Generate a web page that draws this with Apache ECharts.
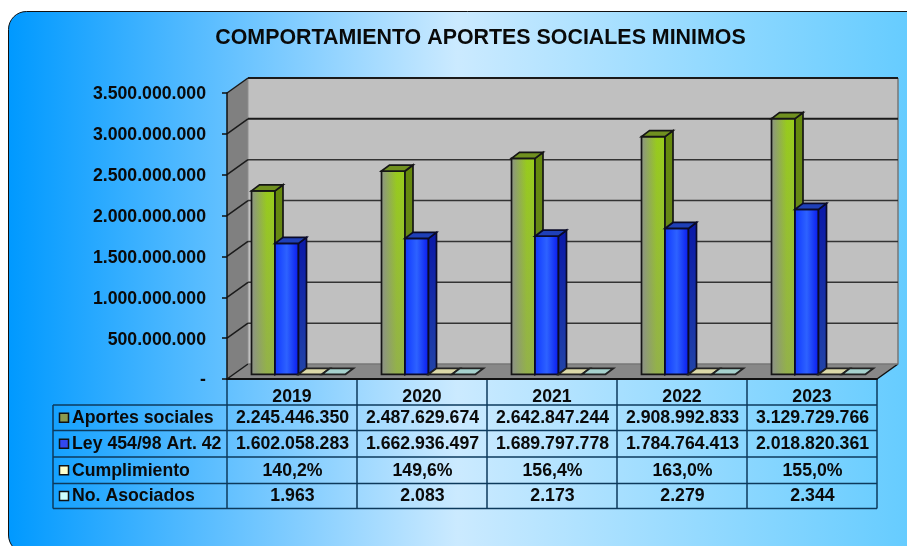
<!DOCTYPE html>
<html>
<head>
<meta charset="utf-8">
<style>html,body{margin:0;padding:0;background:#fff;overflow:hidden}#c{width:907px;height:546px}</style>
<script src="https://cdn.jsdelivr.net/npm/echarts@6/dist/echarts.min.js"></script>
</head>
<body>
<div id="c"></div>
<script>
const titleText = 'COMPORTAMIENTO APORTES SOCIALES MINIMOS';
const years = ['2019', '2020', '2021', '2022', '2023'];
const seriesNames = ['Aportes sociales', 'Ley 454/98 Art. 42', 'Cumplimiento', 'No. Asociados'];
const aportes = [2245446350, 2487629674, 2642847244, 2908992833, 3129729766];
const ley = [1602058283, 1662936497, 1689797778, 1784764413, 2018820361];
const cumplimiento = [140.2, 149.6, 156.4, 163.0, 155.0];
const asociados = [1963, 2083, 2173, 2279, 2344];
const yTicks = [0, 500000000, 1000000000, 1500000000, 2000000000, 2500000000, 3000000000, 3500000000];

const FONT = '"Liberation Sans", Arial, sans-serif';
const TEXT_SIZE = 17.7;
const thousands = v => String(Math.round(v)).replace(/\B(?=(\d{3})+$)/g, '.');
const pct = v => v.toFixed(1).replace('.', ',') + '%';

// layout
const G = {l: 227, r: 877, t: 93, b: 379};
const WALL = {dx: 21, dy: -15};
const BAR = {dx: 6.5, dy: -4.7, ddx: 8, ddy: -6, gap: 18, w: 23.5};

const hGrad = stops => ({type: 'linear', x: 0, y: 0, x2: 1, y2: 0, colorStops: stops.map(c => ({offset: c[0], color: c[1]}))});
const vGrad = (a, b) => ({type: 'linear', x: 0, y: 0, x2: 0, y2: 1, colorStops: [{offset: 0, color: a}, {offset: 1, color: b}]});

const barStyles = [
  {front: hGrad([[0, '#8c9484'], [0.65, '#98cb1c'], [1, '#98cc1c']]), side: vGrad('#668a0c', '#6a8428'), top: '#709020', fade: 'rgba(140,140,140,0.42)', stroke: '#161616'},
  {front: hGrad([[0, '#1038ff'], [0.5, '#2d62ff'], [1, '#0a1cf0']]), side: vGrad('#0a18a8', '#2244a8'), top: '#1f40b8', stroke: '#0a0a28'},
  {front: '#ffffcc', side: '#b0b090', top: '#dcd9a8', stroke: '#222'},
  {front: '#ccffff', side: '#90b0b0', top: '#a6d2cd', stroke: '#222'}
];

function renderWalls(params, api) {
  const v = api.value(0);
  const p = api.coord([0, v]);
  const x0 = G.l, x1 = G.r, y = p[1];
  const base = [];
  if (params.dataIndex === 0) {
    const topY = api.coord([0, yTicks[yTicks.length - 1]])[1];
    base.push(
      {type: 'polygon', shape: {points: [[x0, topY], [x0 + WALL.dx, topY + WALL.dy], [x0 + WALL.dx, y + WALL.dy], [x0, y]]}, style: {fill: '#808080'}},
      {type: 'rect', shape: {x: x0 + WALL.dx, y: topY + WALL.dy, width: x1 - x0, height: y - topY}, style: {fill: '#c0c0c0'}},
      {type: 'polygon', shape: {points: [[x0, y], [x0 + WALL.dx, y + WALL.dy], [x1 + WALL.dx, y + WALL.dy], [x1, y]]}, style: {fill: '#888888'}},
      {type: 'line', shape: {x1: x1 + WALL.dx, y1: topY + WALL.dy, x2: x1 + WALL.dx, y2: y + WALL.dy}, style: {stroke: '#777', lineWidth: 1.5}},
      {type: 'line', shape: {x1: x0 + WALL.dx, y1: topY + WALL.dy, x2: x0 + WALL.dx, y2: y + WALL.dy}, style: {stroke: '#8f8f8f', lineWidth: 1}},
      {type: 'line', shape: {x1: x1, y1: y, x2: x1 + WALL.dx, y2: y + WALL.dy}, style: {stroke: '#111', lineWidth: 1.5}}
    );
  }
  const strong = v >= 3000000000;
  const backColor = v === 0 ? '#777' : (strong ? '#1a1a1a' : '#333');
  base.push(
    {type: 'line', shape: {x1: x0, y1: y, x2: x0 + WALL.dx, y2: y + WALL.dy}, style: {stroke: '#1a1a1a', lineWidth: 1.5}},
    {type: 'line', shape: {x1: x0 + WALL.dx, y1: y + WALL.dy, x2: x1 + WALL.dx, y2: y + WALL.dy}, style: {stroke: backColor, lineWidth: strong ? 2 : 1.5}}
  );
  return {type: 'group', children: base};
}

function barRenderer(si) {
  const s = barStyles[si];
  return function (params, api) {
    const cat = api.value(0), val = api.value(1);
    const band = api.size([1, 0])[0];
    const c = api.coord([cat, val]), c0 = api.coord([cat, 0]);
    const left = c[0] - band / 2 + BAR.gap + si * BAR.w + BAR.dx;
    const right = left + BAR.w;
    const yT = c[1] + BAR.dy, yB = c0[1] + BAR.dy;
    const ch = [];
    const lw = 1.7;
    if (yB - yT > 0.5) {
      ch.push({type: 'rect', shape: {x: left, y: yT, width: BAR.w, height: yB - yT}, style: {fill: s.front}});
      if (s.fade) ch.push({type: 'rect', shape: {x: left, y: yT, width: BAR.w, height: yB - yT}, style: {fill: vGrad('rgba(140,140,140,0)', s.fade)}});
      ch.push({type: 'rect', shape: {x: left, y: yT, width: BAR.w, height: yB - yT}, style: {fill: 'none', stroke: s.stroke, lineWidth: lw}});
      ch.push({type: 'polygon', shape: {points: [[right, yT], [right + BAR.ddx, yT + BAR.ddy], [right + BAR.ddx, yB + BAR.ddy], [right, yB]]}, style: {fill: s.side, stroke: s.stroke, lineWidth: lw}});
    }
    ch.push({type: 'polygon', shape: {points: [[left, yT], [left + BAR.ddx, yT + BAR.ddy], [right + BAR.ddx, yT + BAR.ddy], [right, yT]]}, style: {fill: s.top, stroke: s.stroke, lineWidth: lw}});
    return {type: 'group', children: ch};
  };
}

// table
const rowTop = [405, 430.5, 457, 483.5, 508.5];
const tableLeft = 53;
const colX = [227, 357, 487, 617, 747, 877];
const swatchFill = ['#8a9a50', '#3348f0', '#ffffcc', '#ccffff'];
const rowText = [aportes.map(thousands), ley.map(thousands), cumplimiento.map(pct), asociados.map(thousands)];
const TABLE_LINE = '#0d3a5c';

function tableGraphic() {
  const g = [];
  const line = (x1, y1, x2, y2) => g.push({type: 'line', z: 5, shape: {x1, y1, x2, y2}, style: {stroke: TABLE_LINE, lineWidth: 1.5}});
  rowTop.forEach(y => line(tableLeft, y, G.r, y));
  line(tableLeft, rowTop[0], tableLeft, rowTop[4]);
  colX.forEach(x => line(x, G.b, x, rowTop[4]));
  seriesNames.forEach((name, r) => {
    const cy = (rowTop[r] + rowTop[r + 1]) / 2;
    g.push({type: 'rect', z: 6, shape: {x: 59.5, y: cy - 4.5, width: 9, height: 9}, style: {fill: swatchFill[r], stroke: '#111', lineWidth: 1.5}});
    g.push({type: 'text', z: 6, style: {x: 72, y: cy + 0.5, text: name, font: 'bold ' + TEXT_SIZE + 'px ' + FONT, fill: '#0a0a0a', align: 'left', verticalAlign: 'middle'}});
    rowText[r].forEach((t, c) => {
      g.push({type: 'text', z: 6, style: {x: (colX[c] + colX[c + 1]) / 2 + 0.5, y: cy + 0.5, text: t, font: 'bold ' + TEXT_SIZE + 'px ' + FONT, fill: '#0a0a0a', align: 'center', verticalAlign: 'middle'}});
    });
  });
  return g;
}

const panel = {
  type: 'rect', z: -100,
  shape: {x: 8.5, y: 11.5, width: 960, height: 541.5, r: 18},
  style: {
    fill: {type: 'linear', global: true, x: 8, y: 0, x2: 907, y2: 0, colorStops: [
      {offset: 0, color: '#0099ff'}, {offset: 0.5, color: '#cbeaff'}, {offset: 1, color: '#66ccff'}
    ]},
    stroke: '#111', lineWidth: 1
  }
};

const chart = echarts.init(document.getElementById('c'), null, {renderer: 'canvas', width: 907, height: 546});
const barData = [aportes, ley, cumplimiento, asociados];
chart.setOption({
  animation: false,
  backgroundColor: '#ffffff',
  title: {text: titleText, left: 475.5, top: 23, textAlign: 'center', textStyle: {fontFamily: FONT, fontWeight: 'bold', fontSize: 21.4, color: '#0a0a0a'}},
  grid: {left: G.l, right: 907 - G.r, top: G.t, bottom: 546 - G.b},
  xAxis: {
    type: 'category', data: years, z: 6,
    axisTick: {show: false},
    axisLine: {show: true, lineStyle: {color: '#111', width: 2}},
    axisLabel: {fontFamily: FONT, fontWeight: 'bold', fontSize: TEXT_SIZE, color: '#0a0a0a', margin: 9}
  },
  yAxis: {
    type: 'value', min: 0, max: 3500000000, interval: 500000000, z: 6,
    splitLine: {show: false},
    axisLine: {show: true, lineStyle: {color: '#111', width: 1.5}},
    axisTick: {show: true, length: 5, lineStyle: {color: '#111', width: 1.5}},
    axisLabel: {
      color: '#0a0a0a', margin: 21,
      formatter: v => '{n|' + (v === 0 ? '-' : thousands(v)) + '}',
      rich: {n: {fontFamily: FONT, fontWeight: 'bold', fontSize: TEXT_SIZE, color: '#0a0a0a', padding: [3, 0, 0, 0]}}
    }
  },
  graphic: {elements: [panel].concat(tableGraphic())},
  series: [
    {type: 'custom', name: 'walls', z: 1, clip: false, silent: true, coordinateSystem: 'cartesian2d',
      encode: {y: 0}, data: yTicks.map(v => [v]), renderItem: renderWalls}
  ].concat(barData.map((arr, si) => ({
    type: 'custom', name: seriesNames[si], z: 2 + si, clip: false, silent: true,
    encode: {x: 0, y: 1},
    data: arr.map((v, i) => [i, v]),
    renderItem: barRenderer(si)
  })))
});
</script>
</body>
</html>
